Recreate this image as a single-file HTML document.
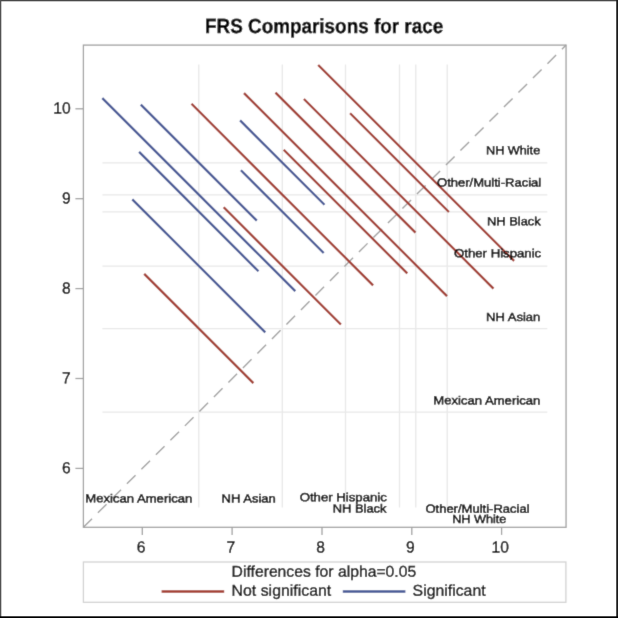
<!DOCTYPE html>
<html lang="en">
<head>
<meta charset="utf-8">
<title>FRS Comparisons for race</title>
<style>
html,body{margin:0;padding:0;background:#fff;}
body{width:618px;height:618px;overflow:hidden;}
svg{display:block;}
text{font-family:"Liberation Sans",sans-serif;fill:#000;}
.t{font-size:20.6px;font-weight:bold;stroke:#000;stroke-width:0.4px;}
.v{font-size:15.7px;stroke:#000;stroke-width:0.3px;}
.k{font-size:16px;stroke:#000;stroke-width:0.3px;}
.d{font-size:11.8px;stroke:#000;stroke-width:0.45px;}
</style>
</head>
<body>
<svg width="618" height="618" viewBox="0 0 618 618">
<defs><filter id="soft" x="-5" y="-5" width="628" height="628" filterUnits="userSpaceOnUse"><feConvolveMatrix order="3" kernelMatrix="0.01134 0.08382 0.01134 0.08382 0.61935 0.08382 0.01134 0.08382 0.01134" edgeMode="duplicate" preserveAlpha="true"/></filter></defs>
<rect x="-5" y="-5" width="628" height="628" fill="#ffffff"/>
<g filter="url(#soft)">
<rect x="-5" y="-5" width="628" height="628" fill="#ffffff"/>

<g stroke="#e8e8e8" stroke-width="1.3" fill="none">
<line x1="198.8" y1="64.4" x2="198.8" y2="507.5"/>
<line x1="282.3" y1="64.4" x2="282.3" y2="507.5"/>
<line x1="345.5" y1="64.4" x2="345.5" y2="507.5"/>
<line x1="399.5" y1="64.4" x2="399.5" y2="507.5"/>
<line x1="415.8" y1="64.4" x2="415.8" y2="507.5"/>
<line x1="447.2" y1="64.4" x2="447.2" y2="507.5"/>
<line x1="102.4" y1="412.1" x2="547.3" y2="412.1"/>
<line x1="102.4" y1="328.7" x2="547.3" y2="328.7"/>
<line x1="102.4" y1="266.1" x2="547.3" y2="266.1"/>
<line x1="102.4" y1="211.8" x2="547.3" y2="211.8"/>
<line x1="102.4" y1="194.8" x2="547.3" y2="194.8"/>
<line x1="102.4" y1="162.8" x2="547.3" y2="162.8"/>
</g>
<line x1="83.4" y1="527.3" x2="566.0" y2="45.1" stroke="#a0a0a0" stroke-width="1.4" stroke-dasharray="12.2 8.3"/>
<g stroke="#a23a2e" stroke-width="2.25" stroke-linecap="butt" fill="none">
<line x1="144.2" y1="273.9" x2="253.4" y2="383.1"/>
<line x1="223.7" y1="207.3" x2="340.9" y2="324.5"/>
<line x1="191.5" y1="103.8" x2="373.1" y2="285.4"/>
<line x1="283.7" y1="149.8" x2="407.3" y2="273.4"/>
<line x1="244.0" y1="93.1" x2="447.0" y2="296.1"/>
<line x1="275.5" y1="92.6" x2="415.5" y2="232.6"/>
<line x1="303.9" y1="99.0" x2="493.5" y2="288.6"/>
<line x1="350.1" y1="113.2" x2="448.9" y2="212.0"/>
<line x1="318.2" y1="65.0" x2="514.1" y2="260.9"/>
</g>
<g stroke="#445694" stroke-width="2.25" stroke-linecap="butt" fill="none">
<line x1="132.3" y1="199.4" x2="265.3" y2="332.4"/>
<line x1="139.1" y1="151.9" x2="258.5" y2="271.3"/>
<line x1="102.3" y1="98.1" x2="295.3" y2="291.1"/>
<line x1="140.8" y1="104.6" x2="256.8" y2="220.6"/>
<line x1="240.9" y1="170.2" x2="323.7" y2="253.0"/>
<line x1="240.1" y1="120.4" x2="324.5" y2="204.8"/>
</g>
<rect x="83.40" y="45.10" width="482.65" height="482.20" fill="none" stroke="#a0a0a0" stroke-width="1.3"/>
<g stroke="#a0a0a0" stroke-width="1.3">
<line x1="142.3" y1="527.3" x2="142.3" y2="534.9"/>
<line x1="75.4" y1="468.4" x2="83.4" y2="468.4"/>
<line x1="232.1" y1="527.3" x2="232.1" y2="534.9"/>
<line x1="75.4" y1="378.5" x2="83.4" y2="378.5"/>
<line x1="322.0" y1="527.3" x2="322.0" y2="534.9"/>
<line x1="75.4" y1="288.6" x2="83.4" y2="288.6"/>
<line x1="411.8" y1="527.3" x2="411.8" y2="534.9"/>
<line x1="75.4" y1="198.7" x2="83.4" y2="198.7"/>
<line x1="501.6" y1="527.3" x2="501.6" y2="534.9"/>
<line x1="75.4" y1="108.8" x2="83.4" y2="108.8"/>
</g>
<text class="k" x="136.65" y="552.50" textLength="8.7" lengthAdjust="spacingAndGlyphs" transform="rotate(0.03 141.00 552.50)">6</text>
<text class="k" x="61.90" y="473.20" textLength="8.7" lengthAdjust="spacingAndGlyphs" transform="rotate(0.03 66.25 473.20)">6</text>
<text class="k" x="226.47" y="552.50" textLength="8.7" lengthAdjust="spacingAndGlyphs" transform="rotate(0.03 230.82 552.50)">7</text>
<text class="k" x="61.90" y="383.30" textLength="8.7" lengthAdjust="spacingAndGlyphs" transform="rotate(0.03 66.25 383.30)">7</text>
<text class="k" x="316.30" y="552.50" textLength="8.7" lengthAdjust="spacingAndGlyphs" transform="rotate(0.03 320.65 552.50)">8</text>
<text class="k" x="61.90" y="293.40" textLength="8.7" lengthAdjust="spacingAndGlyphs" transform="rotate(0.03 66.25 293.40)">8</text>
<text class="k" x="406.12" y="552.50" textLength="8.7" lengthAdjust="spacingAndGlyphs" transform="rotate(0.03 410.48 552.50)">9</text>
<text class="k" x="61.90" y="203.50" textLength="8.7" lengthAdjust="spacingAndGlyphs" transform="rotate(0.03 66.25 203.50)">9</text>
<text class="k" x="491.60" y="552.50" textLength="17.4" lengthAdjust="spacingAndGlyphs" transform="rotate(0.03 500.30 552.50)">10</text>
<text class="k" x="53.20" y="113.60" textLength="17.4" lengthAdjust="spacingAndGlyphs" transform="rotate(0.03 61.90 113.60)">10</text>
<text class="t" x="205.00" y="32.75" textLength="238.2" lengthAdjust="spacingAndGlyphs" transform="rotate(0.03 324.10 32.75)">FRS Comparisons for race</text>
<text class="d" x="486.00" y="154.35" textLength="54.2" lengthAdjust="spacingAndGlyphs" transform="rotate(0.03 513.10 154.35)">NH White</text>
<text class="d" x="437.00" y="186.60" textLength="104.2" lengthAdjust="spacingAndGlyphs" transform="rotate(0.03 489.10 186.60)">Other/Multi-Racial</text>
<text class="d" x="487.00" y="225.15" textLength="53.7" lengthAdjust="spacingAndGlyphs" transform="rotate(0.03 513.85 225.15)">NH Black</text>
<text class="d" x="454.00" y="257.30" textLength="87.2" lengthAdjust="spacingAndGlyphs" transform="rotate(0.03 497.60 257.30)">Other Hispanic</text>
<text class="d" x="486.00" y="321.00" textLength="54.3" lengthAdjust="spacingAndGlyphs" transform="rotate(0.03 513.15 321.00)">NH Asian</text>
<text class="d" x="433.30" y="404.40" textLength="107.0" lengthAdjust="spacingAndGlyphs" transform="rotate(0.03 486.80 404.40)">Mexican American</text>
<text class="d" x="85.30" y="502.40" textLength="107.0" lengthAdjust="spacingAndGlyphs" transform="rotate(0.03 138.80 502.40)">Mexican American</text>
<text class="d" x="221.50" y="502.60" textLength="54.3" lengthAdjust="spacingAndGlyphs" transform="rotate(0.03 248.65 502.60)">NH Asian</text>
<text class="d" x="299.70" y="501.20" textLength="87.2" lengthAdjust="spacingAndGlyphs" transform="rotate(0.03 343.30 501.20)">Other Hispanic</text>
<text class="d" x="332.80" y="512.40" textLength="53.7" lengthAdjust="spacingAndGlyphs" transform="rotate(0.03 359.65 512.40)">NH Black</text>
<text class="d" x="425.40" y="512.80" textLength="104.2" lengthAdjust="spacingAndGlyphs" transform="rotate(0.03 477.50 512.80)">Other/Multi-Racial</text>
<text class="d" x="452.20" y="523.00" textLength="54.2" lengthAdjust="spacingAndGlyphs" transform="rotate(0.03 479.30 523.00)">NH White</text>
<rect x="83.4" y="562.0" width="482.5" height="40.3" fill="#fff" stroke="#d2d2d2" stroke-width="1.3"/>
<text class="v" x="231.60" y="576.70" textLength="184.6" lengthAdjust="spacingAndGlyphs" transform="rotate(0.03 323.90 576.70)">Differences for alpha=0.05</text>
<line x1="161.6" y1="591.6" x2="224.2" y2="591.6" stroke="#a23a2e" stroke-width="2.5"/>
<text class="v" x="231.60" y="595.70" textLength="99.6" lengthAdjust="spacingAndGlyphs" transform="rotate(0.03 281.40 595.70)">Not significant</text>
<line x1="342.8" y1="591.6" x2="405.4" y2="591.6" stroke="#445694" stroke-width="2.5"/>
<text class="v" x="412.60" y="595.70" textLength="73.0" lengthAdjust="spacingAndGlyphs" transform="rotate(0.03 449.10 595.70)">Significant</text>
</g>
<rect x="0" y="0" width="618" height="1.3" fill="#484848"/>
<rect x="0" y="0" width="1.3" height="618" fill="#525252"/>
<rect x="616.25" y="0" width="1.75" height="618" fill="#1a1a1a"/>
<rect x="0" y="616.3" width="618" height="1.7" fill="#000000"/>
</svg>
</body>
</html>
